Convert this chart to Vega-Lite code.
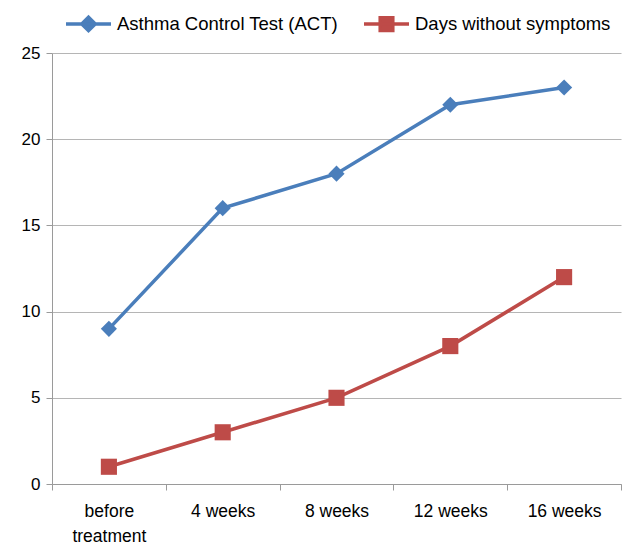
{
  "$schema": "https://vega.github.io/schema/vega-lite/v6.json",
  "width": 569,
  "height": 431,
  "autosize": {"type": "none"},
  "padding": {"left": 52, "top": 53, "right": 1, "bottom": 61},
  "background": "white",
  "config": {"font": "Liberation Sans", "view": {"stroke": null}},
  "data": {
    "values": [
      {"time": "before treatment", "series": "Asthma Control Test (ACT)", "value": 9},
      {"time": "4 weeks", "series": "Asthma Control Test (ACT)", "value": 16},
      {"time": "8 weeks", "series": "Asthma Control Test (ACT)", "value": 18},
      {"time": "12 weeks", "series": "Asthma Control Test (ACT)", "value": 22},
      {"time": "16 weeks", "series": "Asthma Control Test (ACT)", "value": 23},
      {"time": "before treatment", "series": "Days without symptoms", "value": 1},
      {"time": "4 weeks", "series": "Days without symptoms", "value": 3},
      {"time": "8 weeks", "series": "Days without symptoms", "value": 5},
      {"time": "12 weeks", "series": "Days without symptoms", "value": 8},
      {"time": "16 weeks", "series": "Days without symptoms", "value": 12}
    ]
  },
  "encoding": {
    "x": {
      "field": "time",
      "type": "nominal",
      "sort": ["before treatment", "4 weeks", "8 weeks", "12 weeks", "16 weeks"],
      "scale": {"type": "band", "paddingInner": 0, "paddingOuter": 0},
      "axis": {
        "title": null,
        "labelAngle": 0,
        "tickBand": "extent",
        "domainColor": "#9a9a9a",
        "tickColor": "#9a9a9a",
        "tickSize": 6,
        "labelFontSize": 17.5,
        "labelColor": "#000000",
        "labelPadding": 21,
        "labelBaseline": "middle",
        "labelLineHeight": 25,
        "labelExpr": "datum.label == 'before treatment' ? ['before', 'treatment'] : datum.label"
      }
    },
    "y": {
      "field": "value",
      "type": "quantitative",
      "scale": {"domain": [0, 25], "nice": false},
      "axis": {
        "title": null,
        "values": [0, 5, 10, 15, 20, 25],
        "grid": true,
        "gridColor": "#b5b5b5",
        "domainColor": "#9a9a9a",
        "tickColor": "#9a9a9a",
        "tickSize": 6,
        "labelFontSize": 17,
        "labelPadding": 6,
        "labelColor": "#000000"
      }
    },
    "color": {
      "field": "series",
      "type": "nominal",
      "sort": ["Asthma Control Test (ACT)", "Days without symptoms"],
      "scale": {"range": ["#4A7EBB", "#BE4B48"]},
      "legend": {
        "orient": "none",
        "legendX": 12,
        "legendY": -54,
        "direction": "horizontal",
        "title": null,
        "padding": 0,
        "labelFontSize": 18.5,
        "labelLimit": 0,
        "labelColor": "#000000",
        "symbolSize": 2025,
        "symbolStrokeWidth": 3.5,
        "columnPadding": 18,
        "labelOffset": 4,
        "symbolType": "M-1,0H1",
        "encode": {
          "symbols": {
            "update": {
              "shape": {"signal": "datum.value === 'Asthma Control Test (ACT)' ? 'M-1,0H1M0,-0.3L0.3,0L0,0.3L-0.3,0Z' : 'M-1,0H1M-0.28,-0.28H0.28V0.28H-0.28Z'"},
              "fill": {"scale": "color", "field": "value"},
              "stroke": {"scale": "color", "field": "value"},
              "opacity": {"value": 1}
            }
          }
        }
      }
    }
  },
  "layer": [
    {"mark": {"type": "line", "strokeWidth": 3.5}},
    {
      "mark": {"type": "point", "filled": true, "opacity": 1, "size": 260},
      "encoding": {
        "shape": {
          "field": "series",
          "type": "nominal",
          "sort": ["Asthma Control Test (ACT)", "Days without symptoms"],
          "scale": {"range": ["diamond", "square"]},
          "legend": null
        }
      }
    }
  ]
}
